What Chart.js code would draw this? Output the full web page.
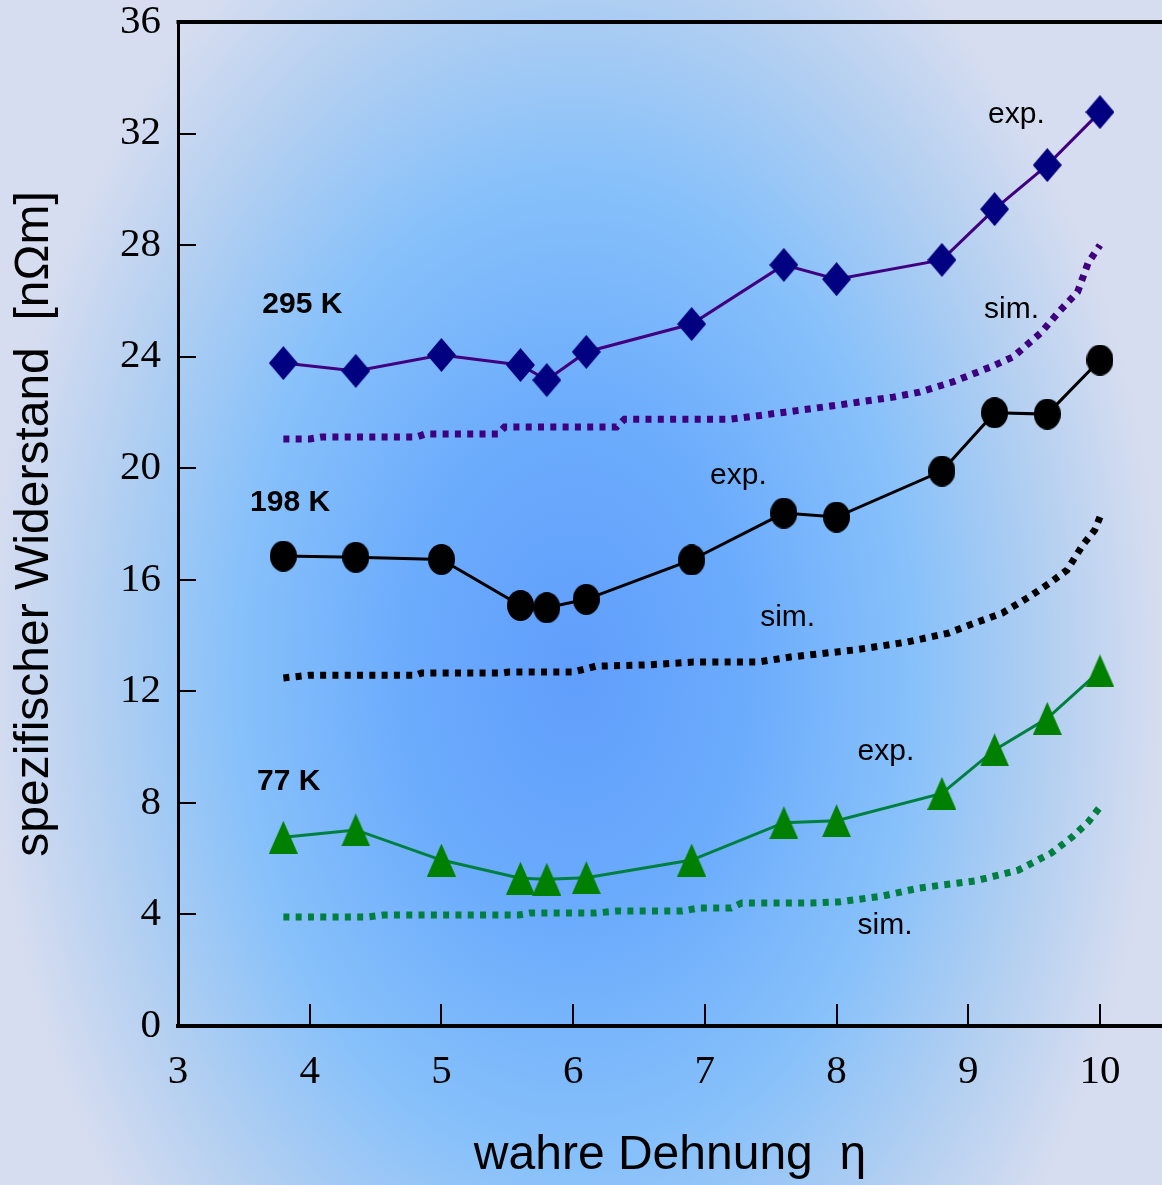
<!DOCTYPE html>
<html>
<head>
<meta charset="utf-8">
<script src="https://cdn.jsdelivr.net/npm/chart.js@4.4.1/dist/chart.umd.min.js"></script>
<style>
html,body{margin:0;padding:0;overflow:hidden;background:#d6dcef;}
#wrap{width:1162px;height:1185px;position:relative;}
</style>
</head>
<body>
<div id="wrap"><canvas id="c" width="1162" height="1185"></canvas></div>
<script>
// ---- data ----
const strainExp = [3.8, 4.35, 5.0, 5.6, 5.8, 6.1, 6.9, 7.6, 8.0, 8.8, 9.2, 9.6, 10.0];
const rho295Exp = [23.77, 23.49, 24.06, 23.70, 23.16, 24.17, 25.17, 27.29, 26.78, 27.47, 29.29, 30.87, 32.77];
const rho198Exp = [16.85, 16.81, 16.73, 15.08, 15.00, 15.30, 16.71, 18.39, 18.25, 19.90, 21.99, 21.94, 23.88];
const rho77Exp  = [6.77, 7.03, 5.95, 5.30, 5.26, 5.32, 5.95, 7.29, 7.36, 8.34, 9.90, 11.03, 12.73];

const strainSim295 = [3.8, 4.0, 4.09, 4.81, 4.88, 5.43, 5.48, 6.33, 6.39, 7.20, 7.61, 8.02, 8.43, 8.63, 8.88, 9.17, 9.34, 9.55, 9.70, 9.83, 9.91, 10.0];
const rho295Sim    = [21.05, 21.05, 21.12, 21.12, 21.23, 21.23, 21.48, 21.48, 21.76, 21.76, 22.01, 22.27, 22.55, 22.73, 23.09, 23.63, 23.99, 24.85, 25.67, 26.32, 27.36, 28.0];

const strainSim198 = [3.8, 4.0, 4.81, 4.85, 5.47, 5.51, 6.0, 6.17, 6.58, 6.91, 7.40, 7.65, 8.13, 8.54, 8.85, 9.05, 9.26, 9.46, 9.63, 9.75, 9.87, 9.96, 10.0];
const rho198Sim    = [12.48, 12.58, 12.58, 12.66, 12.66, 12.69, 12.69, 12.90, 12.95, 13.05, 13.05, 13.23, 13.48, 13.77, 14.09, 14.45, 14.81, 15.38, 15.92, 16.35, 17.25, 17.78, 18.25];

const strainSim77 = [3.8, 4.44, 4.56, 5.59, 5.67, 6.17, 6.33, 6.83, 6.95, 7.20, 7.28, 7.81, 8.02, 8.35, 8.63, 9.05, 9.38, 9.63, 9.79, 9.91, 10.0];
const rho77Sim    = [3.91, 3.91, 3.98, 3.98, 4.05, 4.05, 4.12, 4.12, 4.23, 4.23, 4.41, 4.41, 4.45, 4.66, 4.95, 5.20, 5.59, 6.20, 6.78, 7.31, 7.85];

const xTickValues = [3, 4, 5, 6, 7, 8, 9, 10];
const yTickValues = [0, 4, 8, 12, 16, 20, 24, 28, 32, 36];

const xTitle = 'wahre Dehnung  η';
const yTitle = 'spezifischer Widerstand  [nΩm]';

// annotation texts (anchored in data coordinates)
const notes = [
  {text: '295 K', x: 3.64, y: 25.85, bold: true},
  {text: '198 K', x: 3.547, y: 18.75, bold: true},
  {text: '77 K',  x: 3.60, y: 8.75,  bold: true},
  {text: 'exp.',  x: 9.15, y: 32.66},
  {text: 'sim.',  x: 9.12, y: 25.67},
  {text: 'exp.',  x: 7.04, y: 19.72},
  {text: 'sim.',  x: 7.42, y: 14.63},
  {text: 'exp.',  x: 8.16, y: 9.82},
  {text: 'sim.',  x: 8.16, y: 3.59}
];

// ---- markers ----
function makeMarker(kind, color, w, h) {
  const c = document.createElement('canvas');
  c.width = w; c.height = h;
  const g = c.getContext('2d');
  g.fillStyle = color;
  g.beginPath();
  if (kind === 'diamond') {
    g.moveTo(w / 2, 0); g.lineTo(w, h / 2); g.lineTo(w / 2, h); g.lineTo(0, h / 2);
  } else if (kind === 'circle') {
    g.ellipse(w / 2, h / 2, w / 2, h / 2, 0, 0, Math.PI * 2);
  } else {
    g.moveTo(w / 2, 0); g.lineTo(w, h); g.lineTo(0, h);
  }
  g.closePath();
  g.fill();
  return c;
}
const diamond = makeMarker('diamond', '#000080', 29, 34);
const circle = makeMarker('circle', '#000000', 27, 31);
const triangle = makeMarker('triangle', '#008000', 29, 33);

const pts = (xs, ys) => xs.map((x, i) => ({x: x, y: ys[i]}));

const simStyle = (color) => ({
  showLine: true, borderColor: color, borderWidth: 7, borderDash: [6, 6.3],
  borderCapStyle: 'butt', pointRadius: 0, tension: 0, fill: false
});
const expStyle = (color, marker) => ({
  showLine: true, borderColor: color, borderWidth: 3, tension: 0, fill: false,
  pointStyle: marker, pointRadius: 15, pointHoverRadius: 15, backgroundColor: color
});

const bgPlugin = {
  id: 'bg',
  beforeDraw(chart) {
    const ctx = chart.ctx;
    const W = chart.width, H = chart.height;
    ctx.save();
    ctx.fillStyle = '#d7dcee';
    ctx.fillRect(0, 0, W, H);
    const cx = 575, cy = 670, rx = 590, ry = 860;
    ctx.translate(cx, cy);
    ctx.scale(1, ry / rx);
    const gr = ctx.createRadialGradient(0, 0, 0, 0, 0, rx);
    gr.addColorStop(0, 'rgb(96,158,252)');
    gr.addColorStop(0.3, 'rgb(108,172,252)');
    gr.addColorStop(0.58, 'rgb(136,193,250)');
    gr.addColorStop(0.8, 'rgb(178,207,241)');
    gr.addColorStop(1, 'rgb(215,221,240)');
    ctx.fillStyle = gr;
    ctx.fillRect(-cx, -cy / (ry / rx), W, H / (ry / rx));
    ctx.restore();
  }
};

const decoPlugin = {
  id: 'deco',
  afterDraw(chart) {
    const ctx = chart.ctx;
    const xs = chart.scales.x, ys = chart.scales.y;
    const a = chart.chartArea;
    ctx.save();
    ctx.fillStyle = '#000';
    // top frame line
    ctx.fillRect(a.left - 1.5, a.top - 2, a.right - a.left + 2, 4);
    // inward ticks
    yTickValues.forEach(v => {
      if (v === 0 || v === 36) return;
      const y = Math.round(ys.getPixelForValue(v));
      ctx.fillRect(a.left, y - 1, 18, 2);
    });
    xTickValues.forEach(v => {
      if (v === 3) return;
      const x = Math.round(xs.getPixelForValue(v));
      ctx.fillRect(x - 1, a.bottom - 22, 2, 22);
    });
    // annotations
    ctx.textBaseline = 'middle';
    ctx.textAlign = 'left';
    notes.forEach(n => {
      ctx.font = (n.bold ? 'bold ' : '') + '30px "Liberation Sans", Arial, sans-serif';
      ctx.fillText(n.text, xs.getPixelForValue(n.x), ys.getPixelForValue(n.y));
    });
    ctx.restore();
  }
};

new Chart(document.getElementById('c'), {
  type: 'scatter',
  data: {
    datasets: [
      Object.assign({data: pts(strainSim295, rho295Sim)}, simStyle('#3f007f')),
      Object.assign({data: pts(strainSim198, rho198Sim)}, simStyle('#000000')),
      Object.assign({data: pts(strainSim77, rho77Sim)}, simStyle('#007f40')),
      Object.assign({data: pts(strainExp, rho295Exp)}, expStyle('#400080', diamond)),
      Object.assign({data: pts(strainExp, rho198Exp)}, expStyle('#000000', circle)),
      Object.assign({data: pts(strainExp, rho77Exp)}, expStyle('#008040', triangle))
    ]
  },
  options: {
    responsive: false,
    animation: false,
    events: [],
    layout: {autoPadding: false, padding: {top: 22, right: 0, bottom: 0, left: 0}},
    plugins: {legend: {display: false}, tooltip: {enabled: false}},
    scales: {
      x: {
        type: 'linear', min: 3, max: 10.471,
        afterBuildTicks: s => { s.ticks = xTickValues.map(v => ({value: v})); },
        afterFit: s => { s.height = 159; s.paddingLeft = 0; s.paddingRight = 0; },
        grid: {display: false, drawTicks: false},
        border: {display: true, color: '#000', width: 4},
        ticks: {color: '#000', font: {family: '"Liberation Serif", "Times New Roman", serif', size: 41}, padding: 22, maxRotation: 0, autoSkip: false},
        title: {display: true, text: xTitle, color: '#000', font: {family: '"Liberation Sans", Arial, sans-serif', size: 48}, padding: {top: 0, bottom: 0}}
      },
      y: {
        type: 'linear', min: 0, max: 36,
        afterBuildTicks: s => { s.ticks = yTickValues.map(v => ({value: v})); },
        afterFit: s => { s.width = 178; s.paddingTop = 0; s.paddingBottom = 0; },
        grid: {display: false, drawTicks: false},
        border: {display: true, color: '#000', width: 3},
        ticks: {color: '#000', font: {family: '"Liberation Serif", "Times New Roman", serif', size: 41}, padding: 17},
        title: {display: true, text: yTitle, color: '#000', font: {family: '"Liberation Sans", Arial, sans-serif', size: 48}, padding: {top: 6, bottom: 0}}
      }
    }
  },
  plugins: [bgPlugin, decoPlugin]
});
</script>
</body>
</html>
